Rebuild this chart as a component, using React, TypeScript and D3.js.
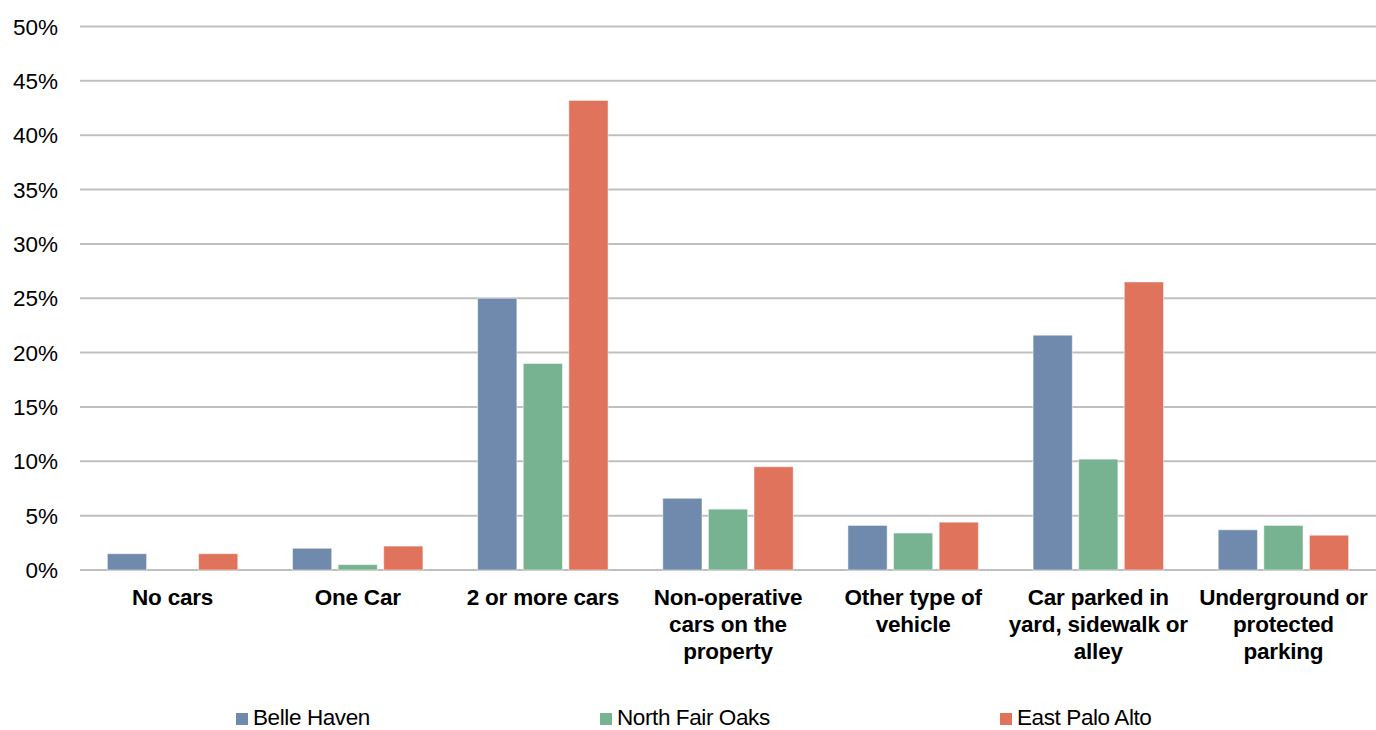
import React from "react";
import * as d3 from "d3";

const categories = [
  ["No cars"],
  ["One Car"],
  ["2 or more cars"],
  ["Non-operative", "cars on the", "property"],
  ["Other type of", "vehicle"],
  ["Car parked in", "yard, sidewalk or", "alley"],
  ["Underground or", "protected", "parking"],
];
const seriesNames = ["Belle Haven", "North Fair Oaks", "East Palo Alto"];
const belleHaven = [1.5, 2.0, 25.0, 6.6, 4.1, 21.6, 3.7];
const northFairOaks = [0, 0.5, 19.0, 5.6, 3.4, 10.2, 4.1];
const eastPaloAlto = [1.5, 2.2, 43.2, 9.5, 4.4, 26.5, 3.2];
const yTicks = [0, 5, 10, 15, 20, 25, 30, 35, 40, 45, 50];
const colors = ["#6f8aad", "#77b390", "#df735c"];

export default function App() {
  const W = 1376, H = 730;
  const left = 80, right = 1376, top = 26.5, bottom = 570;
  const series = [belleHaven, northFairOaks, eastPaloAlto];
  const idx = categories.map((_, i) => i);
  const x0 = d3.scaleBand<number>().domain(idx).range([left, right]).padding(0);
  const x1 = d3
    .scaleBand<number>()
    .domain([0, 1, 2])
    .range([0, x0.bandwidth()])
    .paddingInner(0.14)
    .paddingOuter(0.6);
  const y = d3.scaleLinear().domain([0, 50]).range([bottom, top]);
  const legendX = [236, 600, 1000];
  return (
    <svg
      width={W}
      height={H}
      style={{ position: "absolute", left: 0, top: 0, background: "#fff" }}
      fontFamily="'Liberation Sans', Arial, sans-serif"
    >
      {yTicks.map((t) => (
        <g key={t}>
          <line x1={left} x2={right} y1={y(t)} y2={y(t)} stroke="#bfbfbf" strokeWidth={2} />
          <text x={58} y={y(t)} dy="0.36em" textAnchor="end" fontSize={22.5} fill="#000">
            {t}%
          </text>
        </g>
      ))}
      {series.map((vals, s) =>
        vals.map((v, i) =>
          v > 0 ? (
            <rect
              key={s + "-" + i}
              x={(x0(i) as number) + (x1(s) as number)}
              y={y(v)}
              width={x1.bandwidth()}
              height={y(0) - y(v)}
              fill={colors[s]}
              stroke="#fff"
              strokeOpacity={0.5}
              strokeWidth={1}
            />
          ) : null
        )
      )}
      {categories.map((lines, i) => (
        <text
          key={i}
          x={(x0(i) as number) + x0.bandwidth() / 2}
          y={605}
          textAnchor="middle"
          fontSize={22.5}
          fontWeight="bold"
          letterSpacing={-0.2}
          fill="#000"
        >
          {lines.map((l, j) => (
            <tspan key={j} x={(x0(i) as number) + x0.bandwidth() / 2} dy={j === 0 ? 0 : 27}>
              {l}
            </tspan>
          ))}
        </text>
      ))}
      {seriesNames.map((n, s) => (
        <g key={n}>
          <rect x={legendX[s]} y={713} width={12} height={12} fill={colors[s]} />
          <text x={legendX[s] + 17} y={725} fontSize={22.5} letterSpacing={-0.4} fill="#000">
            {n}
          </text>
        </g>
      ))}
    </svg>
  );
}
